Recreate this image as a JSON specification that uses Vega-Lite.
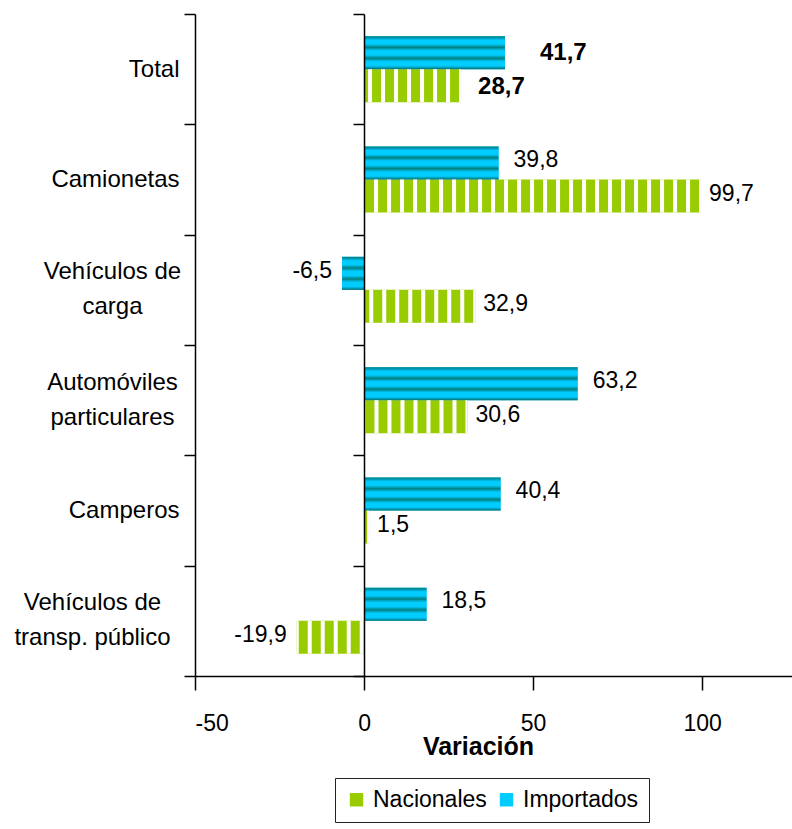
{
  "$schema": "https://vega.github.io/schema/vega-lite/v6.json",
  "width": 597,
  "height": 662,
  "autosize": {"type": "none"},
  "padding": {"left": 195, "top": 14, "right": 0, "bottom": 153},
  "background": "white",
  "config": {
    "view": {"stroke": null},
    "font": "Liberation Sans",
    "locale": {"number": {"decimal": ",", "thousands": ".", "grouping": [3], "currency": ["", ""], "minus": "-"}},
    "axis": {"domainColor": "#000", "tickColor": "#000", "labelColor": "#000", "titleColor": "#000", "grid": false, "domainWidth": 1.5, "tickWidth": 1.5, "labelFont": "Liberation Sans", "titleFont": "Liberation Sans"},
    "legend": {"labelFont": "Liberation Sans"},
    "text": {"font": "Liberation Sans"}
  },
  "data": {"values": [
    {"categoria": "Total", "serie": "Importados", "valor": 41.7},
    {"categoria": "Total", "serie": "Nacionales", "valor": 28.7},
    {"categoria": "Camionetas", "serie": "Importados", "valor": 39.8},
    {"categoria": "Camionetas", "serie": "Nacionales", "valor": 99.7},
    {"categoria": "Vehículos de carga", "serie": "Importados", "valor": -6.5},
    {"categoria": "Vehículos de carga", "serie": "Nacionales", "valor": 32.9},
    {"categoria": "Automóviles particulares", "serie": "Importados", "valor": 63.2},
    {"categoria": "Automóviles particulares", "serie": "Nacionales", "valor": 30.6},
    {"categoria": "Camperos", "serie": "Importados", "valor": 40.4},
    {"categoria": "Camperos", "serie": "Nacionales", "valor": 1.5},
    {"categoria": "Vehículos de transp. público", "serie": "Importados", "valor": 18.5},
    {"categoria": "Vehículos de transp. público", "serie": "Nacionales", "valor": -19.9}
  ]},
  "layer": [
    {
      "mark": {"type": "bar"},
      "encoding": {
        "y": {
          "field": "categoria", "type": "nominal",
          "scale": {"domain": ["Total", "Camionetas", "Vehículos de carga", "Automóviles particulares", "Camperos", "Vehículos de transp. público"], "paddingInner": 0, "paddingOuter": 0},
          "axis": {
            "orient": "left", "title": null, "tickBand": "extent", "tickSize": 11,
            "labelFontSize": 24, "labelLineHeight": 35, "labelLimit": 0,
            "labelExpr": "datum.value == 'Vehículos de carga' ? ['Vehículos de', 'carga'] : datum.value == 'Automóviles particulares' ? ['Automóviles', 'particulares'] : datum.value == 'Vehículos de transp. público' ? ['Vehículos de', 'transp. público'] : datum.label",
            "labelAlign": {"condition": {"test": "datum.value == 'Vehículos de carga' || datum.value == 'Automóviles particulares' || datum.value == 'Vehículos de transp. público'", "value": "center"}, "value": "right"},
            "labelOffset": {"condition": {"test": "datum.value == 'Vehículos de carga' || datum.value == 'Automóviles particulares' || datum.value == 'Vehículos de transp. público'", "value": -18}, "value": 0},
            "labelPadding": {"condition": [
              {"test": "datum.value == 'Vehículos de transp. público'", "value": 92},
              {"test": "datum.value == 'Vehículos de carga' || datum.value == 'Automóviles particulares'", "value": 72}
            ], "value": 5}
          }
        },
        "yOffset": {"field": "serie", "type": "nominal", "scale": {"domain": ["Importados", "Nacionales"], "paddingInner": 0, "paddingOuter": 0.67}},
        "x": {
          "field": "valor", "type": "quantitative",
          "scale": {"domain": [-50, 126.6], "nice": false, "zero": false},
          "axis": {"values": [-50, 0, 50, 100], "tickSize": 14, "labelPadding": 22, "labelFontSize": 23, "title": "Variación", "titleFontSize": 25, "titleFontWeight": "bold", "titleX": 283, "titleY": 78, "titleBaseline": "alphabetic", "titleAnchor": "middle", "titleAlign": "center"}
        },
        "color": {
          "field": "serie", "type": "nominal",
          "scale": {"domain": ["Nacionales", "Importados"], "range": ["#99CC00", "#00CCFF"]},
          "legend": {"orient": "none", "legendX": 140, "legendY": 764, "direction": "horizontal", "title": null, "symbolType": "square", "symbolSize": 180, "symbolStrokeWidth": 0, "labelFontSize": 23, "labelColor": "#000", "strokeColor": "#222", "fillColor": "white", "padding": 10, "columnPadding": 8, "labelOffset": 5}
        }
      }
    },
    {
      "transform": [{"filter": "datum.serie == 'Importados'"}],
      "mark": {"type": "bar", "fill": {"gradient": "linear", "x1": 0, "y1": 0, "x2": 0, "y2": 1, "stops": [
        {"offset": 0, "color": "#008080"},
        {"offset": 0.07, "color": "#00A0C0"},
        {"offset": 0.12, "color": "#00CCFF"},
        {"offset": 0.24, "color": "#00CCFF"},
        {"offset": 0.34, "color": "#008080"},
        {"offset": 0.44, "color": "#00CCFF"},
        {"offset": 0.57, "color": "#00CCFF"},
        {"offset": 0.67, "color": "#008080"},
        {"offset": 0.77, "color": "#00CCFF"},
        {"offset": 0.9, "color": "#00CCFF"},
        {"offset": 1, "color": "#006F70"}
      ]}},
      "encoding": {
        "y": {"field": "categoria", "type": "nominal", "axis": null},
        "yOffset": {"field": "serie", "type": "nominal"},
        "x": {"field": "valor", "type": "quantitative"}
      }
    },
    {
      "transform": [{"filter": "datum.serie == 'Nacionales'"}],
      "mark": {"type": "rule", "color": "white", "strokeWidth": 33, "strokeDash": [4, 9], "strokeDashOffset": 2},
      "encoding": {
        "y": {"field": "categoria", "type": "nominal", "axis": null},
        "yOffset": {"field": "serie", "type": "nominal"},
        "x": {"field": "valor", "type": "quantitative"},
        "x2": {"datum": 0}
      }
    },
    {
      "transform": [{"filter": "datum.valor >= 0 && datum.categoria != 'Total' && datum.serie == 'Importados'"}],
      "mark": {"type": "text", "align": "left", "baseline": "middle", "dx": 15, "dy": -3, "fontSize": 23, "color": "#000"},
      "encoding": {
        "y": {"field": "categoria", "type": "nominal", "axis": {"orient": "left", "offset": -169, "labels": false, "title": null, "tickBand": "extent", "tickSize": 11, "zindex": 1}},
        "yOffset": {"field": "serie", "type": "nominal"},
        "x": {"field": "valor", "type": "quantitative"},
        "text": {"field": "valor", "type": "quantitative", "format": ".1f"}
      }
    },
    {
      "transform": [{"filter": "datum.valor >= 0 && datum.categoria != 'Total' && datum.serie == 'Nacionales'"}],
      "mark": {"type": "text", "align": "left", "baseline": "middle", "dx": 8, "dy": -2, "fontSize": 23, "color": "#000"},
      "encoding": {
        "y": {"field": "categoria", "type": "nominal", "axis": null},
        "yOffset": {"field": "serie", "type": "nominal"},
        "x": {"field": "valor", "type": "quantitative"},
        "text": {"field": "valor", "type": "quantitative", "format": ".1f"}
      }
    },
    {
      "transform": [{"filter": "datum.valor < 0"}],
      "mark": {"type": "text", "align": "right", "baseline": "middle", "dx": -10, "dy": -2, "fontSize": 23, "color": "#000"},
      "encoding": {
        "y": {"field": "categoria", "type": "nominal", "axis": null},
        "yOffset": {"field": "serie", "type": "nominal"},
        "x": {"field": "valor", "type": "quantitative"},
        "text": {"field": "valor", "type": "quantitative", "format": ".1f"}
      }
    },
    {
      "transform": [{"filter": "datum.categoria == 'Total' && datum.serie == 'Importados'"}],
      "mark": {"type": "text", "align": "left", "baseline": "middle", "dx": 35, "dy": 0, "fontSize": 24, "fontWeight": "bold", "color": "#000"},
      "encoding": {
        "y": {"field": "categoria", "type": "nominal", "axis": null},
        "yOffset": {"field": "serie", "type": "nominal"},
        "x": {"field": "valor", "type": "quantitative"},
        "text": {"field": "valor", "type": "quantitative", "format": ".1f"}
      }
    },
    {
      "transform": [{"filter": "datum.categoria == 'Total' && datum.serie == 'Nacionales'"}],
      "mark": {"type": "text", "align": "left", "baseline": "middle", "dx": 17, "dy": 1, "fontSize": 24, "fontWeight": "bold", "color": "#000"},
      "encoding": {
        "y": {"field": "categoria", "type": "nominal", "axis": null},
        "yOffset": {"field": "serie", "type": "nominal"},
        "x": {"field": "valor", "type": "quantitative"},
        "text": {"field": "valor", "type": "quantitative", "format": ".1f"}
      }
    }
  ],
  "resolve": {"axis": {"y": "independent"}}
}
